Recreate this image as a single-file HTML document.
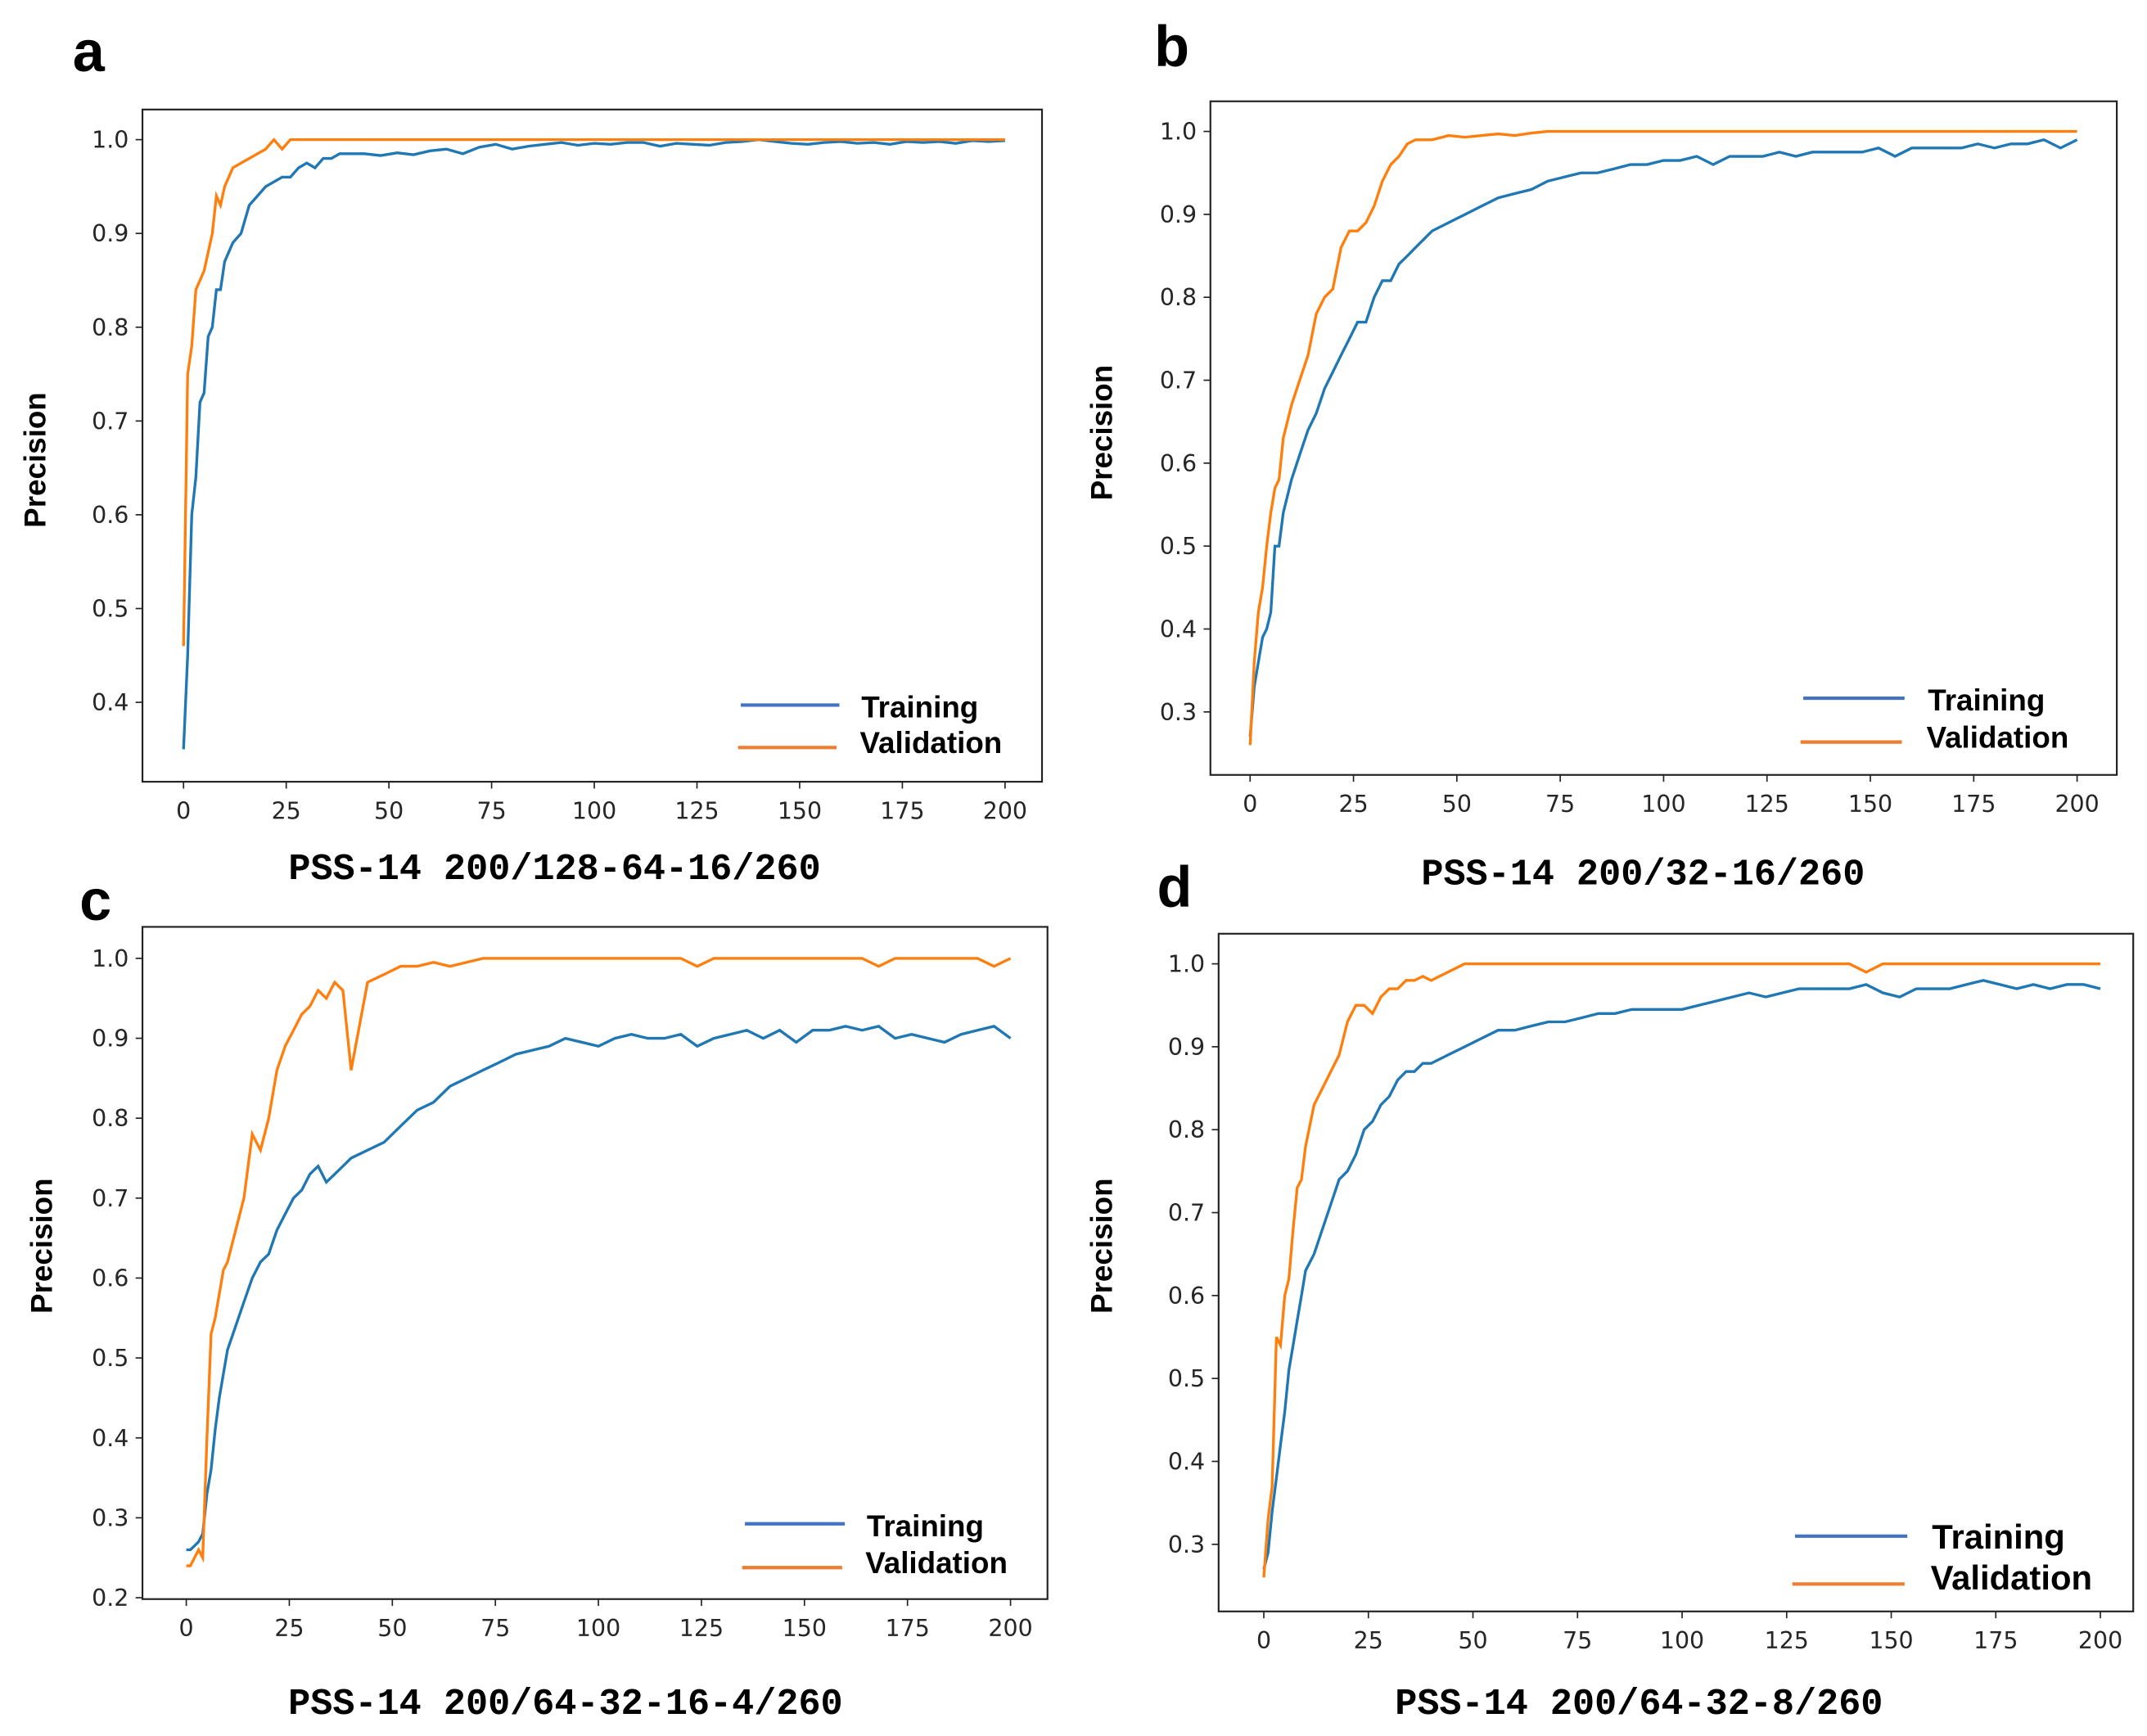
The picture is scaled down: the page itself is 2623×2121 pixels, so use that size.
<!DOCTYPE html>
<html><head><meta charset="utf-8">
<style>
html,body{margin:0;padding:0;background:#fff;}
svg{display:block;}
text{font-family:"Liberation Sans","DejaVu Sans",sans-serif;}
.tick{font-size:17px;fill:#262626;font-family:"DejaVu Sans","Liberation Sans",sans-serif;}
.ylab{font-size:22px;font-weight:bold;fill:#000;}
.title{font-size:27px;font-family:"Liberation Mono","DejaVu Sans Mono",monospace;font-weight:bold;fill:#000;}
.leg{font-size:22px;font-weight:bold;fill:#000;}
.plab{font-size:42px;font-weight:bold;fill:#000;}
</style></head>
<body>
<svg id="fig" width="2623" height="2121" viewBox="0 0 1568 1268" xmlns="http://www.w3.org/2000/svg"></svg>
<script>
const epochs = [0,1,2,3,4,5,6,7,8,9,10,12,14,16,18,20,22,24,26,28,30,32,34,36,38,40,44,48,52,56,60,64,68,72,76,80,84,88,92,96,100,104,108,112,116,120,124,128,132,136,140,144,148,152,156,160,164,168,172,176,180,184,188,192,196,200];
const xTicks = [0,25,50,75,100,125,150,175,200];
const yTicksA = [0.4,0.5,0.6,0.7,0.8,0.9,1.0];
const yTicksB = [0.3,0.4,0.5,0.6,0.7,0.8,0.9,1.0];
const yTicksC = [0.2,0.3,0.4,0.5,0.6,0.7,0.8,0.9,1.0];
const yTicksD = [0.3,0.4,0.5,0.6,0.7,0.8,0.9,1.0];
const trainA = [0.35,0.45,0.60,0.64,0.72,0.73,0.79,0.80,0.84,0.84,0.87,0.89,0.90,0.93,0.94,0.95,0.955,0.96,0.96,0.97,0.975,0.97,0.98,0.98,0.985,0.985,0.985,0.983,0.986,0.984,0.988,0.99,0.985,0.992,0.995,0.99,0.993,0.995,0.997,0.994,0.996,0.995,0.997,0.997,0.993,0.996,0.995,0.994,0.997,0.998,1.0,0.998,0.996,0.995,0.997,0.998,0.996,0.997,0.995,0.998,0.997,0.998,0.996,0.999,0.998,0.999];
const valA = [0.46,0.75,0.78,0.84,0.85,0.86,0.88,0.90,0.94,0.93,0.95,0.97,0.975,0.98,0.985,0.99,1.0,0.99,1.0,1.0,1.0,1.0,1.0,1.0,1.0,1.0,1.0,1.0,1.0,1.0,1.0,1.0,1.0,1.0,1.0,1.0,1.0,1.0,1.0,1.0,1.0,1.0,1.0,1.0,1.0,1.0,1.0,1.0,1.0,1.0,1.0,1.0,1.0,1.0,1.0,1.0,1.0,1.0,1.0,1.0,1.0,1.0,1.0,1.0,1.0,1.0];
const trainB = [0.27,0.33,0.36,0.39,0.40,0.42,0.50,0.50,0.54,0.56,0.58,0.61,0.64,0.66,0.69,0.71,0.73,0.75,0.77,0.77,0.80,0.82,0.82,0.84,0.85,0.86,0.88,0.89,0.90,0.91,0.92,0.925,0.93,0.94,0.945,0.95,0.95,0.955,0.96,0.96,0.965,0.965,0.97,0.96,0.97,0.97,0.97,0.975,0.97,0.975,0.975,0.975,0.975,0.98,0.97,0.98,0.98,0.98,0.98,0.985,0.98,0.985,0.985,0.99,0.98,0.99];
const valB = [0.26,0.36,0.42,0.45,0.50,0.54,0.57,0.58,0.63,0.65,0.67,0.70,0.73,0.78,0.80,0.81,0.86,0.88,0.88,0.89,0.91,0.94,0.96,0.97,0.985,0.99,0.99,0.995,0.993,0.995,0.997,0.995,0.998,1.0,1.0,1.0,1.0,1.0,1.0,1.0,1.0,1.0,1.0,1.0,1.0,1.0,1.0,1.0,1.0,1.0,1.0,1.0,1.0,1.0,1.0,1.0,1.0,1.0,1.0,1.0,1.0,1.0,1.0,1.0,1.0,1.0];
const trainC = [0.26,0.26,0.265,0.27,0.28,0.33,0.36,0.41,0.45,0.48,0.51,0.54,0.57,0.60,0.62,0.63,0.66,0.68,0.70,0.71,0.73,0.74,0.72,0.73,0.74,0.75,0.76,0.77,0.79,0.81,0.82,0.84,0.85,0.86,0.87,0.88,0.885,0.89,0.90,0.895,0.89,0.90,0.905,0.90,0.90,0.905,0.89,0.90,0.905,0.91,0.90,0.91,0.895,0.91,0.91,0.915,0.91,0.915,0.90,0.905,0.90,0.895,0.905,0.91,0.915,0.90];
const valC = [0.24,0.24,0.25,0.26,0.25,0.40,0.53,0.55,0.58,0.61,0.62,0.66,0.70,0.78,0.76,0.80,0.86,0.89,0.91,0.93,0.94,0.96,0.95,0.97,0.96,0.86,0.97,0.98,0.99,0.99,0.995,0.99,0.995,1.0,1.0,1.0,1.0,1.0,1.0,1.0,1.0,1.0,1.0,1.0,1.0,1.0,0.99,1.0,1.0,1.0,1.0,1.0,1.0,1.0,1.0,1.0,1.0,0.99,1.0,1.0,1.0,1.0,1.0,1.0,0.99,1.0];
const trainD = [0.27,0.29,0.34,0.38,0.42,0.46,0.51,0.54,0.57,0.60,0.63,0.65,0.68,0.71,0.74,0.75,0.77,0.80,0.81,0.83,0.84,0.86,0.87,0.87,0.88,0.88,0.89,0.90,0.91,0.92,0.92,0.925,0.93,0.93,0.935,0.94,0.94,0.945,0.945,0.945,0.945,0.95,0.955,0.96,0.965,0.96,0.965,0.97,0.97,0.97,0.97,0.975,0.965,0.96,0.97,0.97,0.97,0.975,0.98,0.975,0.97,0.975,0.97,0.975,0.975,0.97];
const valD = [0.26,0.33,0.37,0.55,0.54,0.60,0.62,0.68,0.73,0.74,0.78,0.83,0.85,0.87,0.89,0.93,0.95,0.95,0.94,0.96,0.97,0.97,0.98,0.98,0.985,0.98,0.99,1.0,1.0,1.0,1.0,1.0,1.0,1.0,1.0,1.0,1.0,1.0,1.0,1.0,1.0,1.0,1.0,1.0,1.0,1.0,1.0,1.0,1.0,1.0,1.0,0.99,1.0,1.0,1.0,1.0,1.0,1.0,1.0,1.0,1.0,1.0,1.0,1.0,1.0,1.0];

const NS = "http://www.w3.org/2000/svg";
const svg = document.getElementById('fig');
function mk(tag, attrs, parent){
  const e = document.createElementNS(NS, tag);
  for (const k in attrs) e.setAttribute(k, attrs[k]);
  (parent||svg).appendChild(e);
  return e;
}
function panel(p){
  const g = mk('g', {});
  
  
  const sx = v => p.x0 + (v / 200) * (p.x200 - p.x0);
  const sy = v => p.yTop + (1.0 - v) / (1.0 - p.yRef) * (p.yRefPx - p.yTop);
  const lab = mk('text', {x:p.lx, y:p.ly, class:'plab'}, g);
  lab.textContent = p.id;
  
  
  const frame = mk('rect', {x:p.fl, y:p.ft, width:p.fr-p.fl, height:p.fb-p.ft, fill:'none', stroke:'#222', 'stroke-width':1.3}, g);
  
  
  xTicks.forEach(t => {
    const x = sx(t);
    mk('line', {x1:x, x2:x, y1:p.fb, y2:p.fb+5, stroke:'#222', 'stroke-width':1}, g);
    const tx = mk('text', {x:x, y:p.fb+27, class:'tick', 'text-anchor':'middle'}, g);
    tx.textContent = t;
    
    
  });
  p.yTicks.forEach(t => {
    const y = sy(t);
    mk('line', {x1:p.fl-5, x2:p.fl, y1:y, y2:y, stroke:'#222', 'stroke-width':1}, g);
    const ty = mk('text', {x:p.fl-10, y:y+6, class:'tick', 'text-anchor':'end'}, g);
    ty.textContent = t.toFixed(1);
    
    
  });
  const yl = mk('text', {x:0, y:0, class:'ylab', 'text-anchor':'middle', transform:'translate('+p.ylx+','+p.yly+') rotate(-90)'}, g);
  yl.textContent = 'Precision';
  
  
  const tt = mk('text', {x:p.tx, y:p.ty, class:'title', 'text-anchor':'middle'}, g);
  tt.textContent = p.title;
  
  
  const ptsT = epochs.map((e,i) => sx(e).toFixed(1)+','+sy(p.train[i]).toFixed(1)).join(' ');
  const ptsV = epochs.map((e,i) => sx(e).toFixed(1)+','+sy(p.val[i]).toFixed(1)).join(' ');
  const lt = mk('polyline', {points:ptsT, fill:'none', stroke:'#1f77b4', 'stroke-width':2}, g);
  
  
  const lv = mk('polyline', {points:ptsV, fill:'none', stroke:'#ff7f0e', 'stroke-width':2}, g);
  
  
  const l1 = mk('line', {x1:p.legX, x2:p.legX+p.legW, y1:p.legY1, y2:p.legY1, stroke:'#4472c4', 'stroke-width':2.5}, g);
  
  
  const l2 = mk('line', {x1:p.legX-2, x2:p.legX+p.legW-2, y1:p.legY2, y2:p.legY2, stroke:'#ed7d31', 'stroke-width':2.5}, g);
  
  
  const t1 = mk('text', {x:p.legTx, y:p.legY1+9, class:'leg', style:'font-size:'+p.legFs+'px'}, g);
  t1.textContent = 'Training';
  
  
  const t2 = mk('text', {x:p.legTx-1, y:p.legY2+4, class:'leg', style:'font-size:'+p.legFs+'px'}, g);
  t2.textContent = 'Validation';
  
  
}
panel({id:'a', lx:53, ly:52, fl:104, fr:761, ft:80, fb:571, x0:134, x200:734, yTop:102, yRef:0.4, yRefPx:513, yTicks:yTicksA,
  ylx:33, yly:336, tx:405, ty:642, title:'PSS-14 200/128-64-16/260', train:trainA, val:valA,
  legX:541, legW:72, legY1:515, legY2:546, legTx:629, legFs:22});
panel({id:'b', lx:843, ly:48, fl:884, fr:1546, ft:74, fb:566, x0:913, x200:1517, yTop:96, yRef:0.3, yRefPx:520, yTicks:yTicksB,
  ylx:812, yly:316, tx:1200, ty:646, title:'PSS-14 200/32-16/260', train:trainB, val:valB,
  legX:1317, legW:74, legY1:510, legY2:542, legTx:1408, legFs:22});
panel({id:'c', lx:58, ly:672, fl:104, fr:765, ft:677, fb:1168, x0:136, x200:738, yTop:700, yRef:0.2, yRefPx:1167, yTicks:yTicksC,
  ylx:38, yly:910, tx:413, ty:1252, title:'PSS-14 200/64-32-16-4/260', train:trainC, val:valC,
  legX:544, legW:73, legY1:1113, legY2:1145, legTx:633, legFs:22});
panel({id:'d', lx:845, ly:662, fl:890, fr:1558, ft:682, fb:1177, x0:923, x200:1534, yTop:704, yRef:0.3, yRefPx:1128, yTicks:yTicksD,
  ylx:812, yly:910, tx:1197, ty:1252, title:'PSS-14 200/64-32-8/260', train:trainD, val:valD,
  legX:1311, legW:82, legY1:1122, legY2:1157, legTx:1411, legFs:25});
</script>
</body></html>
